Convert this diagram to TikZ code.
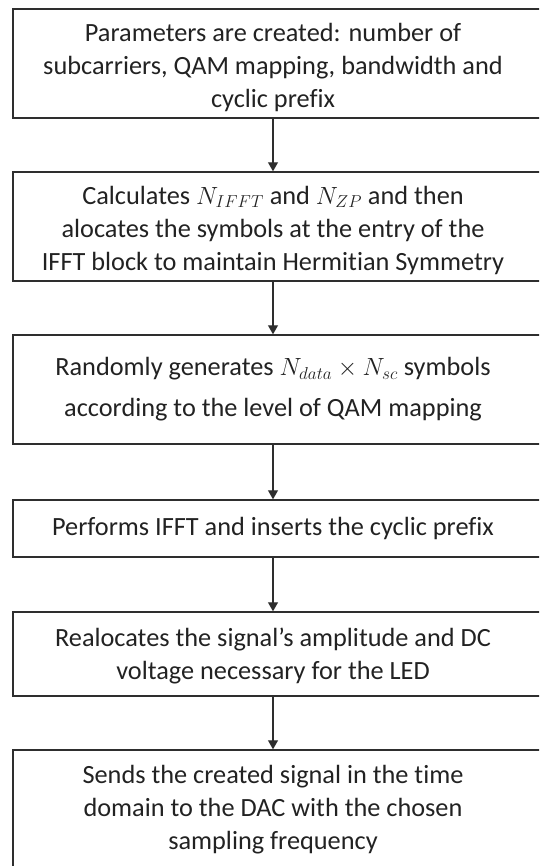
\documentclass[tikz,border=0pt]{standalone}
\usepackage{fontspec}
\setmainfont{Carlito}[Ligatures={NoCommon}]
\usetikzlibrary{arrows.meta}
\definecolor{ink}{HTML}{222222}
\definecolor{rule}{HTML}{2E2E2E}
\tikzset{
  box/.style={draw=rule, line width=1.4pt, minimum width=532pt, inner sep=0pt},
  txt/.style={text=ink, align=center, inner sep=0pt,
    font=\fontsize{26.3}{33}\selectfont},
  arr/.style={draw=rule, line width=1.1pt, -{Triangle[length=9pt,width=10pt]}},
}
\begin{document}
\begin{tikzpicture}[x=1pt,y=-1pt]
  \useasboundingbox (0,0) rectangle (539,866);
  \clip (0,0) rectangle (539,866);

  % process boxes (right edge runs past the page)
  \node[box, minimum height=109pt] (b1) at (279,63.5) {};
  \node[box, minimum height=109pt] (b2) at (279,226.5) {};
  \node[box, minimum height=109pt] (b3) at (279,389.5) {};
  \node[box, minimum height=57pt]  (b4) at (279,528.5) {};
  \node[box, minimum height=84pt]  (b5) at (279,654) {};
  \node[box, minimum height=130pt] (b6) at (279,815) {};

  % box texts
  \node[txt] (t1) at (273,67) {Parameters are created: number of\\subcarriers, QAM mapping, bandwidth and\\cyclic prefix};
  \node[txt] (t2) at (273,230) {Calculates $N_{IFFT}$ and $N_{ZP}$ and then\\alocates the symbols at the entry of the\\IFFT block to maintain Hermitian Symmetry};
  \node[txt] (t3) at (273,389) {Randomly generates $N_{data}\times N_{sc}$ symbols\\[8pt]according to the level of QAM mapping};
  \node[txt] (t4) at (273,528) {Performs IFFT and inserts the cyclic prefix};
  \node[txt] (t5) at (273,656) {Realocates the signal’s amplitude and DC\\voltage necessary for the LED};
  \node[txt] (t6) at (273,810) {Sends the created signal in the time\\domain to the DAC with the chosen\\sampling frequency};

  % connectors
  \draw[arr] (t1 |- b1.south) -- (t2 |- b2.north);
  \draw[arr] (t2 |- b2.south) -- (t3 |- b3.north);
  \draw[arr] (t3 |- b3.south) -- (t4 |- b4.north);
  \draw[arr] (t4 |- b4.south) -- (t5 |- b5.north);
  \draw[arr] (t5 |- b5.south) -- (t6 |- b6.north);
\end{tikzpicture}
\end{document}
